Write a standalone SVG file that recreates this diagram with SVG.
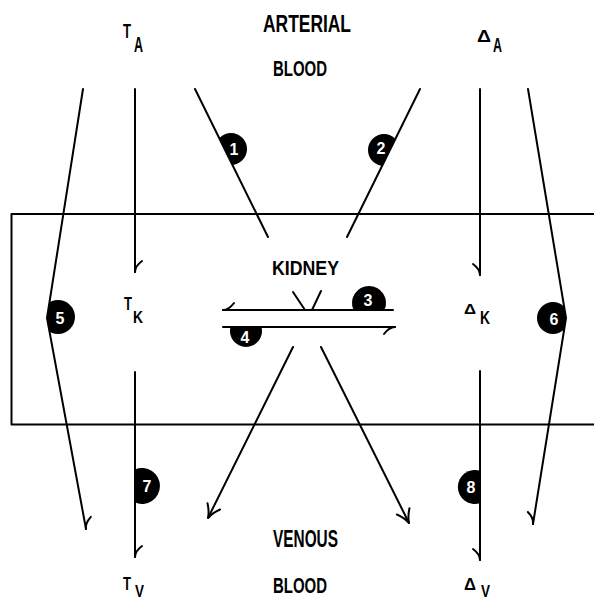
<svg xmlns="http://www.w3.org/2000/svg" width="594" height="601" viewBox="0 0 594 601">
<style>
  .ln { fill: none; stroke: #000; stroke-width: 2; stroke-linecap: round; stroke-linejoin: round; }
  .lbl { font-family: "Liberation Sans", Arial, sans-serif; font-weight: bold; fill: #000; }
  .num { font-family: "Liberation Sans", Arial, sans-serif; font-weight: bold; font-size: 16px; fill: #fff; text-anchor: middle; }
  .badge { fill: #000; }
</style>
<defs>
  <marker id="hookP" markerUnits="userSpaceOnUse" orient="auto" refX="0" refY="0" markerWidth="20" markerHeight="20" overflow="visible">
    <path d="M0,0 C-4,0 -8,3 -11,7" fill="none" stroke="#000" stroke-width="2" stroke-linecap="round"/>
  </marker>
  <marker id="hookN" markerUnits="userSpaceOnUse" orient="auto" refX="0" refY="0" markerWidth="20" markerHeight="20" overflow="visible">
    <path d="M0,0 C-4,0 -8,-3 -11,-7" fill="none" stroke="#000" stroke-width="2" stroke-linecap="round"/>
  </marker>
  <marker id="vee" markerUnits="userSpaceOnUse" orient="auto" refX="0" refY="0" markerWidth="20" markerHeight="20" overflow="visible">
    <path d="M-13,-7 C-8,-3 -4,-1 0,0 C-4,1 -8,3 -13,7" fill="none" stroke="#000" stroke-width="2" stroke-linecap="round"/>
  </marker>
  <clipPath id="c1"><polygon points="195,89 268,237 320,237 320,89"/></clipPath>
  <clipPath id="c2"><polygon points="420,89 347,237 300,237 300,89"/></clipPath>
  <clipPath id="c5"><polygon points="83,89 47,318 86,530 200,530 200,89"/></clipPath>
  <clipPath id="c6"><polygon points="528,89 566,318 533,524 400,524 400,89"/></clipPath>
</defs>

<rect width="594" height="601" fill="#fff"/>

<g id="kidney">
  <path class="ln" d="M596,214 H11.5 V424.5 H596"/>
  <text class="lbl" x="272" y="275" font-size="21" textLength="67" lengthAdjust="spacingAndGlyphs">KIDNEY</text>
</g>

<g id="arterial-blood">
  <text class="lbl" x="263" y="32" font-size="23" textLength="88" lengthAdjust="spacingAndGlyphs">ARTERIAL</text>
  <text class="lbl" x="273" y="76" font-size="22" textLength="54" lengthAdjust="spacingAndGlyphs">BLOOD</text>
</g>

<g id="venous-blood">
  <text class="lbl" x="273" y="547" font-size="23" textLength="65" lengthAdjust="spacingAndGlyphs">VENOUS</text>
  <text class="lbl" x="273" y="593" font-size="22" textLength="54" lengthAdjust="spacingAndGlyphs">BLOOD</text>
</g>

<g id="T_A">
  <text class="lbl" x="123" y="38" font-size="21" textLength="8" lengthAdjust="spacingAndGlyphs">T</text>
  <text class="lbl" x="134" y="52" font-size="22" textLength="9" lengthAdjust="spacingAndGlyphs">A</text>
</g>
<g id="T_K">
  <text class="lbl" x="124" y="310" font-size="18" textLength="8" lengthAdjust="spacingAndGlyphs">T</text>
  <text class="lbl" x="133" y="323" font-size="16" textLength="10" lengthAdjust="spacingAndGlyphs">K</text>
</g>
<g id="T_V">
  <text class="lbl" x="123" y="590" font-size="19" textLength="8" lengthAdjust="spacingAndGlyphs">T</text>
  <text class="lbl" x="135" y="597" font-size="16" textLength="9" lengthAdjust="spacingAndGlyphs">V</text>
</g>
<g id="delta_A">
  <text class="lbl" x="477" y="42" font-size="17" textLength="14" lengthAdjust="spacingAndGlyphs">Δ</text>
  <text class="lbl" x="493" y="52" font-size="21" textLength="9" lengthAdjust="spacingAndGlyphs">A</text>
</g>
<g id="delta_K">
  <text class="lbl" x="464" y="314" font-size="15" textLength="12" lengthAdjust="spacingAndGlyphs">Δ</text>
  <text class="lbl" x="480" y="324" font-size="19" textLength="10" lengthAdjust="spacingAndGlyphs">K</text>
</g>
<g id="delta_V">
  <text class="lbl" x="464" y="590" font-size="16" textLength="12" lengthAdjust="spacingAndGlyphs">Δ</text>
  <text class="lbl" x="481" y="597" font-size="16" textLength="9" lengthAdjust="spacingAndGlyphs">V</text>
</g>

<g id="connectors">
  <polyline class="ln" points="83,89 47,318 86,529" marker-end="url(#hookN)"/>
  <line class="ln" x1="135" y1="89" x2="135" y2="272" marker-end="url(#hookN)"/>
  <line class="ln" x1="135" y1="372" x2="135" y2="557" marker-end="url(#hookN)"/>
  <line class="ln" x1="195" y1="89" x2="268" y2="237"/>
  <line class="ln" x1="420" y1="89" x2="347" y2="237"/>
  <line class="ln" x1="480" y1="89" x2="480" y2="275" marker-end="url(#hookP)"/>
  <line class="ln" x1="480" y1="371" x2="480" y2="560" marker-end="url(#hookP)"/>
  <polyline class="ln" points="528,89 566,318 533,524" marker-end="url(#hookP)"/>
  <line class="ln" x1="393" y1="310" x2="223" y2="310" marker-end="url(#hookP)"/>
  <line class="ln" x1="293" y1="292" x2="305" y2="310"/>
  <line class="ln" x1="321" y1="291" x2="312" y2="310"/>
  <line class="ln" x1="223" y1="327" x2="395" y2="327" marker-end="url(#hookP)"/>
  <line class="ln" x1="293" y1="347" x2="208" y2="518" marker-end="url(#vee)"/>
  <line class="ln" x1="321" y1="347" x2="409" y2="523" marker-end="url(#vee)"/>
</g>

<g id="badge1"><circle class="badge" cx="231" cy="149" r="16" clip-path="url(#c1)"/><text class="num" x="234" y="155">1</text></g>
<g id="badge2"><circle class="badge" cx="384" cy="150" r="16" clip-path="url(#c2)"/><text class="num" x="381" y="154">2</text></g>
<g id="badge3"><path class="badge" d="M353.5,310 A17,17 0 1 1 384.5,310 Z"/><text class="num" x="368" y="306">3</text></g>
<g id="badge4"><path class="badge" d="M230.5,327 A16,16 0 1 0 261.5,327 Z"/><text class="num" x="245" y="343">4</text></g>
<g id="badge5"><circle class="badge" cx="58" cy="317" r="17" clip-path="url(#c5)"/><text class="num" x="60" y="324">5</text></g>
<g id="badge6"><circle class="badge" cx="553" cy="318" r="16" clip-path="url(#c6)"/><text class="num" x="554" y="325">6</text></g>
<g id="badge7"><path class="badge" d="M135,469.4 A18,18 0 1 1 135,502.6 Z"/><text class="num" x="147" y="492">7</text></g>
<g id="badge8"><path class="badge" d="M480,470.8 A17,17 0 1 0 480,503.2 Z"/><text class="num" x="471" y="493">8</text></g>
</svg>
